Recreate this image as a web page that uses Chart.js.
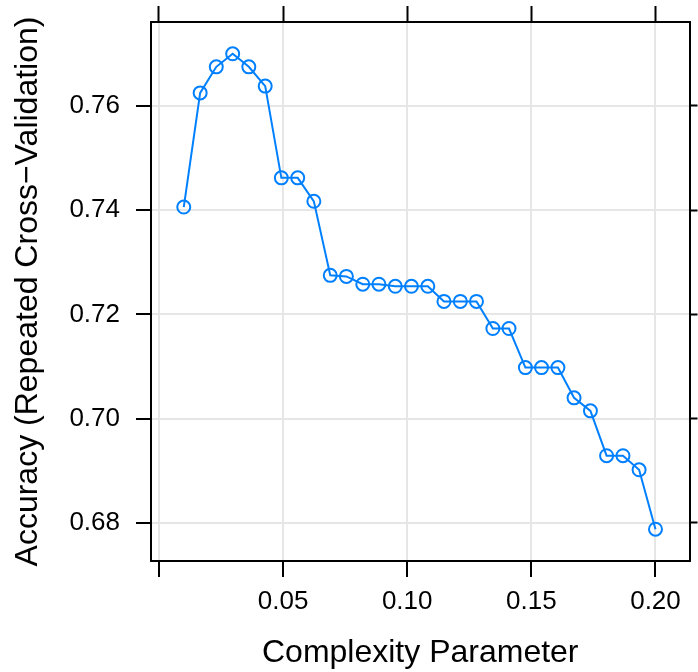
<!DOCTYPE html>
<html>
<head>
<meta charset="utf-8">
<script src="https://cdn.jsdelivr.net/npm/chart.js@4"></script>
<style>
  html, body { margin: 0; padding: 0; background: #fff; }
  canvas { display: block; }
</style>
</head>
<body>
<canvas id="cpChart" width="698" height="672"></canvas>
<script>
// complexity parameter grid and resampled accuracy
const cpValues = [0.0100, 0.0166, 0.0231, 0.0297, 0.0362, 0.0428, 0.0493, 0.0559, 0.0624, 0.0690,
                  0.0755, 0.0821, 0.0886, 0.0952, 0.1017, 0.1083, 0.1148, 0.1214, 0.1279, 0.1345,
                  0.1410, 0.1476, 0.1541, 0.1607, 0.1672, 0.1738, 0.1803, 0.1869, 0.1934, 0.2000];
const accuracy = [0.7406, 0.7625, 0.7675, 0.7700, 0.7675, 0.7638, 0.7462, 0.7462, 0.7417, 0.7275,
                  0.7273, 0.7258, 0.7258, 0.7254, 0.7254, 0.7254, 0.7225, 0.7225, 0.7225, 0.7173,
                  0.7173, 0.7098, 0.7098, 0.7098, 0.7040, 0.7015, 0.6929, 0.6929, 0.6902, 0.6788];

const xTickValues = [0, 0.05, 0.10, 0.15, 0.20];
const xTickLabels = ['', '0.05', '0.10', '0.15', '0.20'];
const yTickValues = [0.68, 0.70, 0.72, 0.74, 0.76];
const yTickLabels = ['0.68', '0.70', '0.72', '0.74', '0.76'];

const FONT = "'Liberation Sans', Arial, sans-serif";
const X_MIN = -0.0032, X_MAX = 0.2137;
const Y_MIN = 0.6727, Y_MAX = 0.7761;

function setTicks(values) {
    return scale => { scale.ticks = values.map(v => ({ value: v })); };
}
function labelFrom(values, labels) {
    return v => {
        const i = values.findIndex(t => Math.abs(t - v) < 1e-9);
        return i >= 0 ? labels[i] : '';
    };
}
// fixed axis box sizes, no extra label overflow padding
function fixSize(prop, size) {
    return s => {
        s[prop] = size;
        s.paddingTop = 0; s.paddingBottom = 0;
        s.paddingLeft = 0; s.paddingRight = 0;
    };
}

const ctx = document.getElementById('cpChart').getContext('2d');

new Chart(ctx, {
    type: 'line',
    data: {
        datasets: [{
            data: cpValues.map((cp, i) => ({ x: cp, y: accuracy[i] })),
            borderColor: '#0080ff',
            borderWidth: 2,
            tension: 0,
            fill: false,
            pointStyle: 'circle',
            pointRadius: 6.5,
            pointBorderWidth: 2,
            pointBackgroundColor: 'rgba(0,0,0,0)',
            pointBorderColor: '#0080ff'
        }]
    },
    options: {
        responsive: false,
        animation: false,
        layout: { padding: 0 },
        scales: {
            x: {
                type: 'linear',
                position: 'bottom',
                min: X_MIN, max: X_MAX,
                afterBuildTicks: setTicks(xTickValues),
                afterFit: fixSize('height', 111),
                grid: { color: '#e6e6e6', lineWidth: 2, tickColor: '#000', tickWidth: 2, tickLength: 16 },
                border: { color: '#000', width: 2 },
                ticks: {
                    color: '#000', padding: 9, maxRotation: 0, autoSkip: false,
                    font: { family: FONT, size: 26 },
                    callback: labelFrom(xTickValues, xTickLabels)
                },
                title: {
                    display: true, text: 'Complexity Parameter', color: '#000',
                    font: { family: FONT, size: 32, lineHeight: 1 },
                    padding: { top: 0, bottom: 3 }
                }
            },
            xTop: {
                type: 'linear',
                position: 'top',
                min: X_MIN, max: X_MAX,
                afterBuildTicks: setTicks(xTickValues),
                afterFit: fixSize('height', 22),
                grid: { drawOnChartArea: false, tickColor: '#000', tickWidth: 2, tickLength: 16 },
                border: { color: '#000', width: 2 },
                ticks: { display: false }
            },
            y: {
                type: 'linear',
                position: 'left',
                min: Y_MIN, max: Y_MAX,
                afterBuildTicks: setTicks(yTickValues),
                afterFit: fixSize('width', 151),
                grid: { color: '#e6e6e6', lineWidth: 2, tickColor: '#000', tickWidth: 2, tickLength: 15 },
                border: { color: '#000', width: 2 },
                ticks: {
                    color: '#000', padding: 16, autoSkip: false,
                    font: { family: FONT, size: 26 },
                    callback: labelFrom(yTickValues, yTickLabels)
                },
                title: {
                    display: true, text: 'Accuracy (Repeated Cross\u2212Validation)', color: '#000',
                    font: { family: FONT, size: 32, lineHeight: 1 },
                    padding: { top: 12, bottom: 0 }
                }
            },
            yRight: {
                type: 'linear',
                position: 'right',
                min: Y_MIN, max: Y_MAX,
                afterBuildTicks: setTicks(yTickValues),
                afterFit: fixSize('width', 8),
                grid: { drawOnChartArea: false, tickColor: '#000', tickWidth: 2, tickLength: 8 },
                border: { color: '#000', width: 2 },
                ticks: { display: false }
            }
        },
        plugins: {
            legend: { display: false },
            tooltip: { enabled: false }
        }
    }
});
</script>
</body>
</html>
